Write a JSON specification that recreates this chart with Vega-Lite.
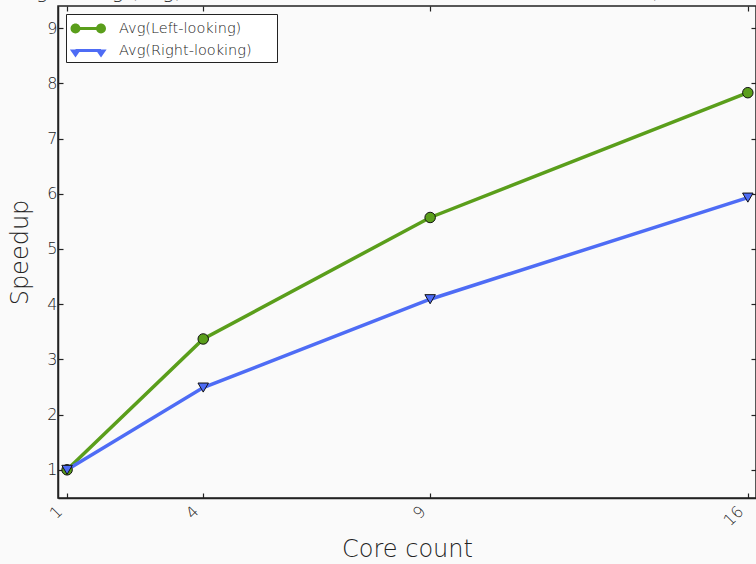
{
  "$schema": "https://vega.github.io/schema/vega-lite/v6.json",
  "width": 698,
  "height": 492,
  "autosize": {"type": "none"},
  "padding": {"left": 58, "top": 6, "right": 0, "bottom": 66},
  "background": "#fafafa",
  "title": {
    "text": "Strong scaling (avg) of the two solver variants on all test matrices (1 to 16 cores)",
    "anchor": "start",
    "frame": "bounds",
    "dx": -26,
    "offset": 3,
    "fontSize": 20,
    "font": "DejaVu Sans",
    "fontWeight": 300,
    "color": "#222222"
  },
  "config": {
    "view": {"stroke": "#222222", "strokeWidth": 1.5},
    "axis": {
      "labelFont": "DejaVu Sans",
      "titleFont": "DejaVu Sans",
      "labelFontWeight": 300,
      "titleFontWeight": 300,
      "labelColor": "#222222",
      "titleColor": "#222222",
      "tickColor": "#222222",
      "domainColor": "#222222",
      "domainWidth": 1.5,
      "tickWidth": 1.2,
      "grid": false
    },
    "legend": {"labelFont": "DejaVu Sans", "labelFontWeight": 300, "titleFont": "DejaVu Sans"}
  },
  "data": {
    "values": [
      {"cores": 1, "speedup": 1.0, "series": "Avg(Left-looking)"},
      {"cores": 4, "speedup": 3.37, "series": "Avg(Left-looking)"},
      {"cores": 9, "speedup": 5.57, "series": "Avg(Left-looking)"},
      {"cores": 16, "speedup": 7.83, "series": "Avg(Left-looking)"},
      {"cores": 1, "speedup": 1.0, "series": "Avg(Right-looking)"},
      {"cores": 4, "speedup": 2.49, "series": "Avg(Right-looking)"},
      {"cores": 9, "speedup": 4.09, "series": "Avg(Right-looking)"},
      {"cores": 16, "speedup": 5.93, "series": "Avg(Right-looking)"}
    ]
  },
  "resolve": {"axis": {"x": "independent", "y": "independent"}},
  "layer": [
    {
      "mark": {"type": "line", "strokeWidth": 3.5},
      "encoding": {
        "x": {
          "field": "cores", "type": "quantitative",
          "scale": {"domain": [0.8, 16.18], "nice": false, "zero": false},
          "axis": {
            "orient": "bottom", "values": [1, 4, 9, 16], "tickSize": -5,
            "labelAngle": -45, "labelAlign": "right", "labelBaseline": "alphabetic",
            "labelFontSize": 16, "labelPadding": 19, "labelOffset": -4,
            "title": "Core count", "titleFontSize": 24, "titlePadding": 9
          }
        },
        "y": {
          "field": "speedup", "type": "quantitative",
          "scale": {"domain": [0.49, 9.4], "nice": false, "zero": false},
          "axis": {
            "orient": "left", "values": [1, 2, 3, 4, 5, 6, 7, 8, 9], "tickSize": -5,
            "labelFontSize": 16, "labelPadding": 6,
            "title": "Speedup", "titleFontSize": 24, "titlePadding": 14
          }
        },
        "color": {
          "field": "series", "type": "nominal",
          "scale": {"domain": ["Avg(Left-looking)", "Avg(Right-looking)"], "range": ["#5a9e1b", "#4e6cf5"]},
          "legend": {
            "title": "\u2003\u2003",
            "titleOrient": "right",
            "titleFontSize": 13,
            "titlePadding": 20,
            "orient": "top-left",
            "offset": 8,
            "padding": 5,
            "rowPadding": 6,
            "symbolSize": 256,
            "symbolType": "M-0.62,0 L2.56,0",
            "symbolStrokeWidth": 3,
            "labelOffset": 29,
            "labelFontSize": 14.5,
            "labelColor": "#222222",
            "fillColor": "white",
            "strokeColor": "#222222"
          }
        }
      }
    },
    {
      "transform": [{"filter": "datum.series === 'Avg(Left-looking)'"}],
      "mark": {"type": "point", "shape": "circle", "filled": true, "size": 110, "stroke": "#111111", "strokeWidth": 1, "opacity": 1},
      "encoding": {
        "x": {
          "field": "cores", "type": "quantitative",
          "axis": {"orient": "top", "values": [1, 4, 9, 16], "tickSize": -5, "labels": false, "domain": false, "title": null}
        },
        "y": {
          "field": "speedup", "type": "quantitative",
          "axis": {"orient": "right", "values": [1, 2, 3, 4, 5, 6, 7, 8, 9], "tickSize": -5, "labels": false, "domain": false, "title": null}
        },
        "color": {"field": "series", "type": "nominal", "legend": null}
      }
    },
    {
      "transform": [{"filter": "datum.series === 'Avg(Right-looking)'"}],
      "mark": {"type": "point", "shape": "triangle-down", "filled": true, "size": 110, "stroke": "#111111", "strokeWidth": 1, "opacity": 1},
      "encoding": {
        "x": {"field": "cores", "type": "quantitative", "axis": null},
        "y": {"field": "speedup", "type": "quantitative", "axis": null},
        "color": {"field": "series", "type": "nominal", "legend": null}
      }
    },
    {
      "mark": {"type": "point", "filled": true, "size": 110, "stroke": "#111111", "strokeWidth": 1, "opacity": 0},
      "encoding": {
        "x": {"field": "cores", "type": "quantitative", "axis": null},
        "y": {"field": "speedup", "type": "quantitative", "axis": null},
        "fill": {
          "field": "series", "type": "nominal",
          "scale": {"range": ["#5a9e1b", "#4e6cf5"]},
          "legend": {
            "title": null, "orient": "none", "legendX": 8, "legendY": 8,
            "padding": 5, "rowPadding": 8, "symbolSize": 256, "symbolStrokeWidth": 1,
            "symbolOpacity": 1, "symbolStrokeColor": "#111111",
            "labelOffset": 29, "labelFontSize": 14.5, "labelOpacity": 0
          }
        },
        "shape": {
          "field": "series", "type": "nominal",
          "scale": {"range": [
            "M-1.12,0.12 A0.62,0.62 0 1,0 0.12,0.12 A0.62,0.62 0 1,0 -1.12,0.12 Z M2.07,0.12 A0.62,0.62 0 1,0 3.31,0.12 A0.62,0.62 0 1,0 2.07,0.12 Z",
            "M-1.2,-0.38 L0.2,-0.38 L-0.5,0.62 Z M1.99,-0.38 L3.39,-0.38 L2.69,0.62 Z"
          ]},
          "legend": {
            "title": null, "orient": "none", "legendX": 8, "legendY": 8,
            "padding": 5, "rowPadding": 8, "symbolSize": 256, "symbolStrokeWidth": 1,
            "symbolOpacity": 1, "symbolStrokeColor": "#111111",
            "labelOffset": 29, "labelFontSize": 14.5, "labelOpacity": 0
          }
        }
      }
    }
  ]
}
